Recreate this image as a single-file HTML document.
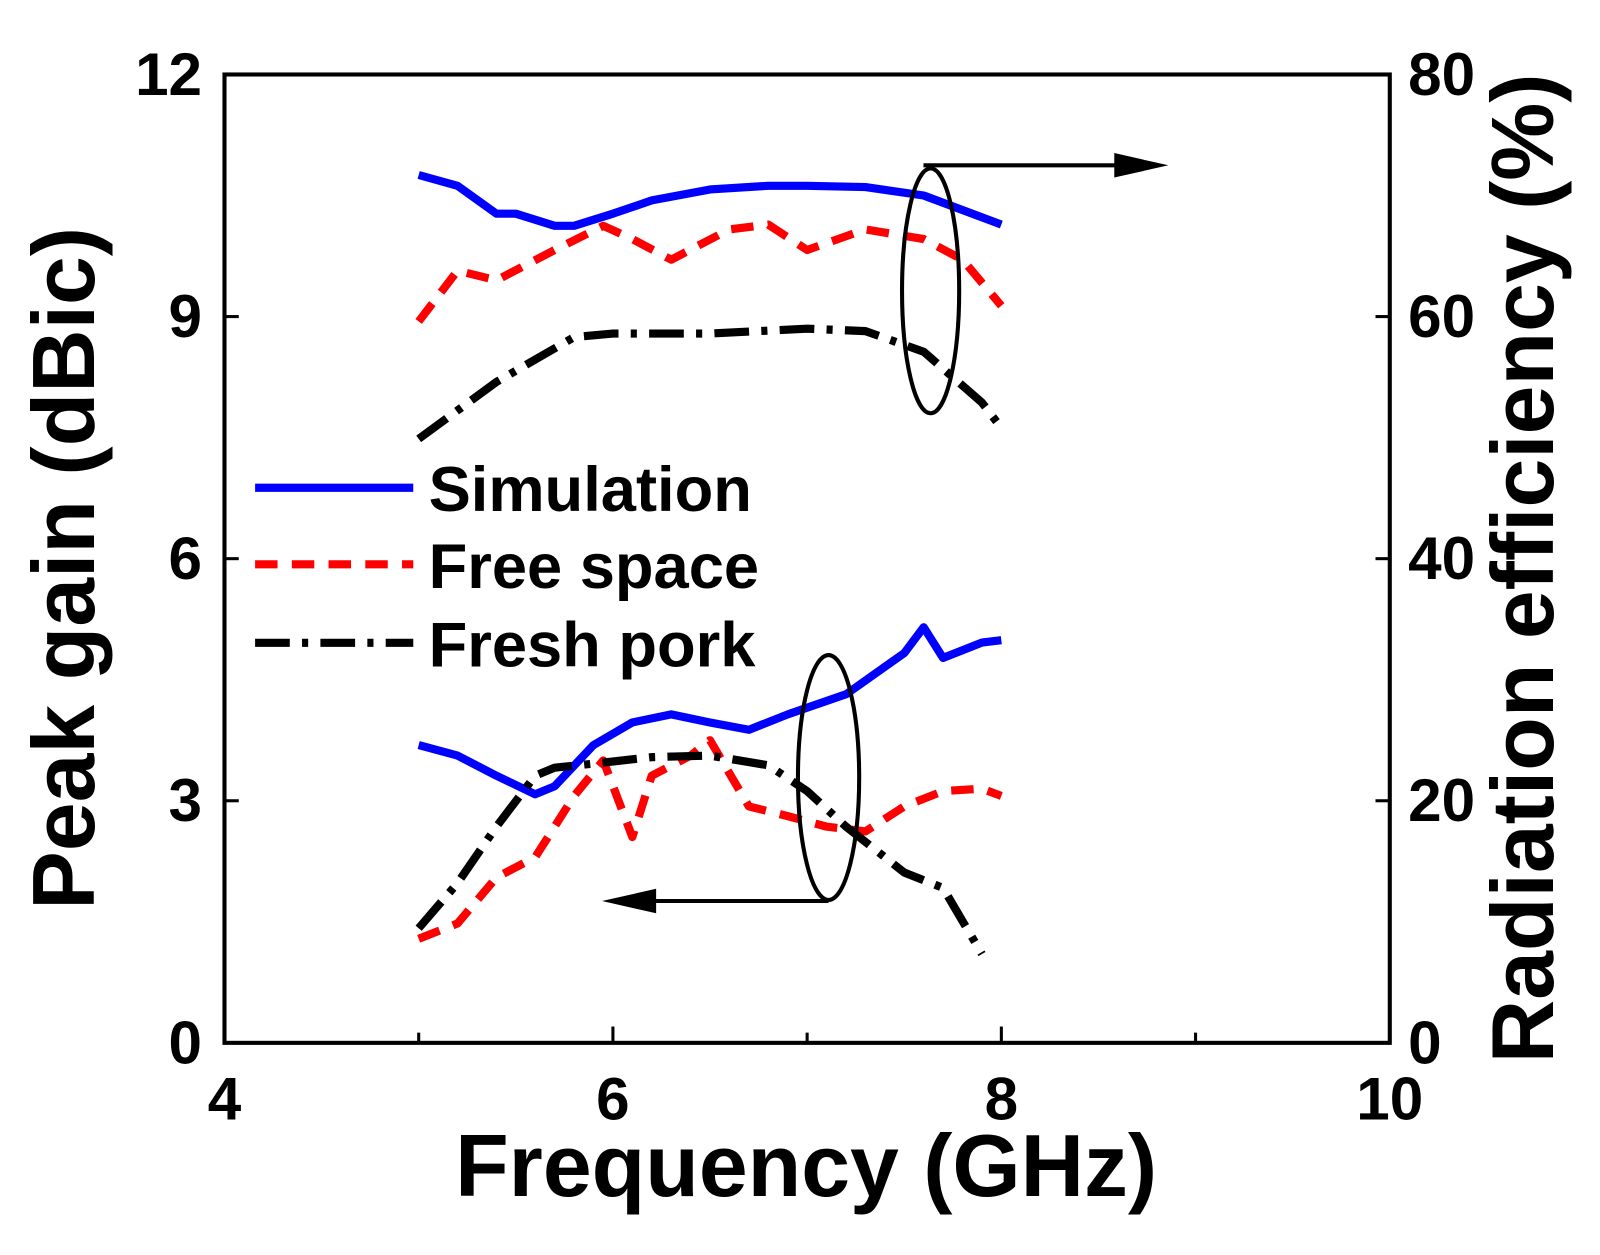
<!DOCTYPE html>
<html><head><meta charset="utf-8"><style>
html,body{margin:0;padding:0;background:#fff;}
svg{display:block;font-family:"Liberation Sans",Arial,sans-serif;font-weight:bold;}
</style></head><body>
<svg id="chart" width="1600" height="1255" viewBox="0 0 1600 1255">
<g id="marks" transform="scale(1.0204)"></g>
</svg>
<script>
const xTicks=[4,6,8,10];
const yLeftTicks=[0,3,6,9,12];
const yRightTicks=[0,20,40,60,80];
const simEffF=[5,5.2,5.4,5.5,5.7,5.8,6.0,6.2,6.5,6.8,7.0,7.3,7.6,8.0];
const simEff=[71.7,70.8,68.5,68.5,67.5,67.5,68.5,69.6,70.5,70.8,70.8,70.7,70,67.6];
const freeEffF=[5,5.1,5.2,5.4,5.7,5.95,6.1,6.3,6.6,6.8,7.0,7.3,7.6,7.8,8.0];
const freeEff=[59.6,61.7,63.8,63,65.5,67.5,66.4,64.7,67.2,67.6,65.5,67.2,66.4,64.7,60.9];
const porkEffF=[5,5.4,5.8,6.0,6.5,7.0,7.3,7.6,7.9,8.0];
const porkEff=[49.9,54.6,58.3,58.6,58.6,59,58.8,57.1,52.9,50.8];
const simGainF=[5,5.2,5.4,5.6,5.7,5.9,6.1,6.3,6.5,6.7,6.9,7.2,7.5,7.6,7.7,7.9,8.0];
const simGain=[3.69,3.56,3.31,3.08,3.18,3.69,3.97,4.07,3.97,3.88,4.07,4.32,4.83,5.15,4.77,4.96,4.99];
const freeGainF=[5,5.2,5.4,5.6,5.8,5.95,6.1,6.2,6.4,6.5,6.7,6.9,7.1,7.3,7.5,7.7,7.9,8.0];
const freeGain=[1.29,1.48,2.05,2.30,3.06,3.5,2.55,3.31,3.56,3.75,2.93,2.81,2.68,2.62,2.93,3.12,3.15,3.06];
const porkGainF=[5,5.2,5.4,5.6,5.7,5.9,6.2,6.5,6.8,7.0,7.2,7.5,7.7,7.9];
const porkGain=[1.42,1.98,2.68,3.31,3.41,3.46,3.54,3.56,3.44,3.12,2.68,2.11,1.92,1.10];

const L=220,R=1362,T=73,B=1022;
const X=v=>L+(v-4)/6*(R-L);
const YL=v=>B-v/12*(B-T);
const YR=v=>B-v/80*(B-T);
const NS='http://www.w3.org/2000/svg';
const g=document.getElementById('marks');
function mk(tag,attrs,parent){const e=document.createElementNS(NS,tag);for(const k in attrs)e.setAttribute(k,attrs[k]);(parent||g).appendChild(e);return e;}

let fr=mk('rect',{x:L,y:T,width:R-L,height:B-T,fill:'none',stroke:'#000','stroke-width':4});



for(let v=4;v<=10;v+=1){
 const t=mk('line',{x1:X(v),x2:X(v),y1:B,y2:B-(v%2==0?16:10),stroke:'#000','stroke-width':3});
 
 
}
xTicks.forEach(v=>{
 const t=mk('text',{x:X(v),y:B+75,'font-size':59,'text-anchor':'middle',fill:'#000'});
 t.textContent=v;
 
 
});
yLeftTicks.forEach(v=>{
 const t=mk('text',{x:L-22,y:YL(v)+20,'font-size':59,'text-anchor':'end',fill:'#000'});
 t.textContent=v;
 
 
 const k=mk('line',{x1:L,x2:L+14,y1:YL(v),y2:YL(v),stroke:'#000','stroke-width':3});
 
 
});
yRightTicks.forEach(v=>{
 const t=mk('text',{x:R+18,y:YR(v)+20,'font-size':59,'text-anchor':'start',fill:'#000'});
 t.textContent=v;
 
 
 const k=mk('line',{x1:R,x2:R-14,y1:YR(v),y2:YR(v),stroke:'#000','stroke-width':3});
 
 
});

let xt=mk('text',{x:790,y:1172,'font-size':86,'text-anchor':'middle',fill:'#000'});
xt.textContent='Frequency (GHz)';


let yt=mk('text',{x:0,y:0,'font-size':86,'text-anchor':'middle',fill:'#000',transform:`translate(92,557) rotate(-90)`});
yt.textContent='Peak gain (dBic)';


let yt2=mk('text',{x:0,y:0,'font-size':86,'text-anchor':'middle',fill:'#000',transform:`translate(1522,557) rotate(-90)`});
yt2.textContent='Radiation efficiency (%)';



const styles={
 sim:{stroke:'#0000ff',dash:''},
 free:{stroke:'#ff0000',dash:'22,14'},
 pork:{stroke:'#000',dash:'34,12,6,12'}
};
function line(fs,vs,Y,st,name){
 const d=fs.map((f,i)=>(i?'L':'M')+X(f).toFixed(1)+','+Y(vs[i]).toFixed(1)).join(' ');
 const p=mk('path',{d,fill:'none',stroke:st.stroke,'stroke-width':8,'stroke-dasharray':st.dash,'stroke-linejoin':'round'});
 
 
}
line(simEffF,simEff,YR,styles.sim,'simulation-efficiency-line');
line(freeEffF,freeEff,YR,styles.free,'free-space-efficiency-line');
line(porkEffF,porkEff,YR,styles.pork,'fresh-pork-efficiency-line');
line(simGainF,simGain,YL,styles.sim,'simulation-gain-line');
line(freeGainF,freeGain,YL,styles.free,'free-space-gain-line');
line(porkGainF,porkGain,YL,styles.pork,'fresh-pork-gain-line');

let e1=mk('ellipse',{cx:912,cy:285,rx:28,ry:120,fill:'none',stroke:'#000','stroke-width':4});


let a1=mk('line',{x1:905,y1:162,x2:1100,y2:162,stroke:'#000','stroke-width':4});


let h1=mk('polygon',{points:'1145,162 1092,150 1092,174',fill:'#000'});


let e2=mk('ellipse',{cx:812,cy:762,rx:30,ry:120,fill:'none',stroke:'#000','stroke-width':4});


let a2=mk('line',{x1:812,y1:883,x2:635,y2:883,stroke:'#000','stroke-width':4});


let h2=mk('polygon',{points:'590,883 643,871 643,895',fill:'#000'});



const legend=[['Simulation',styles.sim,478,'legend-simulation'],['Free space',styles.free,553,'legend-free-space'],['Fresh pork',styles.pork,630,'legend-fresh-pork']];
legend.forEach(([txt,st,y,name])=>{
 const l=mk('line',{x1:250,x2:405,y1:y,y2:y,stroke:st.stroke,'stroke-width':8,'stroke-dasharray':st.dash});
 
 
 const t=mk('text',{x:420,y:y+23,'font-size':62,fill:'#000'});
 t.textContent=txt;
 
 
});
</script>
</body></html>
